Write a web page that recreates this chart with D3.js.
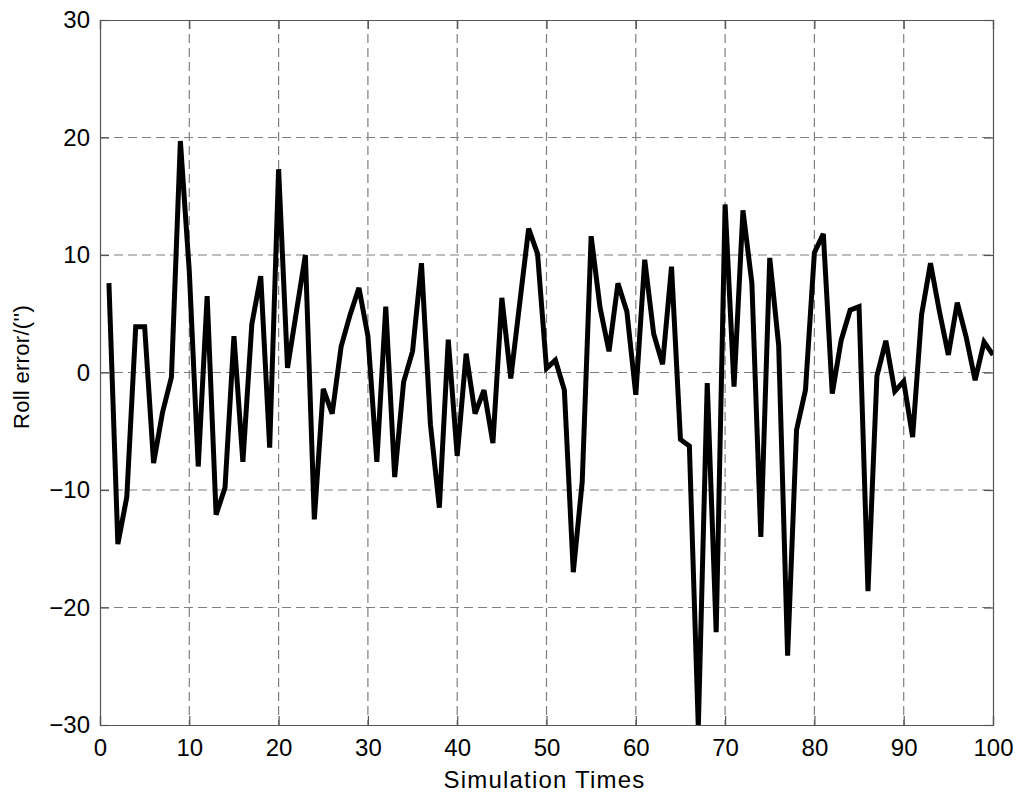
<!DOCTYPE html>
<html>
<head>
<meta charset="utf-8">
<script src="https://cdn.jsdelivr.net/npm/d3@7/dist/d3.min.js"></script>
<style>
  html, body { margin: 0; padding: 0; background: #fff; }
  svg { display: block; }
  text { font-family: Arial, "Liberation Sans", Helvetica, sans-serif; fill: #000; }
</style>
</head>
<body>
<svg id="chart" width="1024" height="797"></svg>
<script>
const xTicks = [0, 10, 20, 30, 40, 50, 60, 70, 80, 90, 100];
const yTicks = [-30, -20, -10, 0, 10, 20, 30];
const xLabel = "Simulation Times";
const yLabel = "Roll error/('')";
const rollError = [
  7.6, -14.6, -10.6, 3.9, 3.9, -7.7, -3.4, -0.4, 19.7, 8.6,
  -8.0, 6.5, -12.1, -9.8, 3.1, -7.6, 4.1, 8.2, -6.4, 17.3,
  0.4, 5.2, 10.0, -12.5, -1.4, -3.5, 2.2, 4.9, 7.2, 3.1,
  -7.6, 5.6, -8.9, -0.8, 1.8, 9.3, -4.4, -11.5, 2.8, -7.1,
  1.6, -3.5, -1.5, -6.0, 6.35, -0.5, 5.9, 12.25, 10.1, 0.35,
  1.05, -1.5, -17.0, -9.3, 11.6, 5.5, 1.8, 7.6, 5.2, -1.9,
  9.6, 3.3, 0.7, 9.0, -5.7, -6.25, -30.2, -0.9, -22.1, 14.3,
  -1.2, 13.8, 7.6, -14.0, 9.75, 2.3, -24.1, -4.9, -1.5, 10.2,
  11.8, -1.8, 2.75, 5.3, 5.6, -18.6, -0.3, 2.7, -1.6, -0.75,
  -5.5, 4.9, 9.3, 5.2, 1.5, 5.95, 3.0, -0.65, 2.6, 1.5
];
const times = rollError.map((_, i) => i + 1);

const svg = d3.select("#chart");
const m = { left: 100, right: 31, top: 20, bottom: 72 };
const W = 1024, H = 797;
const iw = W - m.left - m.right, ih = H - m.top - m.bottom;

const x = d3.scaleLinear().domain([0, 100]).range([m.left, m.left + iw]);
const y = d3.scaleLinear().domain([-30, 30]).range([m.top + ih, m.top]);

const g = svg.append("g");

// grid
const gridColor = "#7f7f7f";
g.append("g").selectAll("line").data(xTicks.slice(1, -1)).join("line")
  .attr("x1", d => x(d)).attr("x2", d => x(d))
  .attr("y1", y(30)).attr("y2", y(-30))
  .attr("stroke", gridColor).attr("stroke-width", 1.2).attr("stroke-dasharray", "9,5");
g.append("g").selectAll("line").data(yTicks.slice(1, -1)).join("line")
  .attr("y1", d => y(d)).attr("y2", d => y(d))
  .attr("x1", x(0)).attr("x2", x(100))
  .attr("stroke", gridColor).attr("stroke-width", 1.2).attr("stroke-dasharray", "9,5");

// axes (ticks inside)
const axisColor = "#555";
const xAxis = d3.axisBottom(x).tickValues(xTicks).tickSize(-9).tickPadding(14).tickFormat(d3.format("d"));
const yAxis = d3.axisLeft(y).tickValues(yTicks).tickSize(-9).tickPadding(10).tickFormat(d3.format("d"));
const xAxisTop = d3.axisTop(x).tickValues(xTicks).tickSize(-9).tickFormat("");
const yAxisRight = d3.axisRight(y).tickValues(yTicks).tickSize(-9).tickFormat("");

function style(sel) {
  sel.select(".domain").attr("stroke", axisColor).attr("stroke-width", 1.2);
  sel.selectAll(".tick line").attr("stroke", axisColor).attr("stroke-width", 1.2);
  sel.selectAll(".tick text").style("font-size", "24px").attr("fill", "#000");
}
g.append("g").attr("transform", `translate(0,${y(-30)})`).call(xAxis).call(style);
g.append("g").attr("transform", `translate(${x(0)},0)`).call(yAxis).call(style);
g.append("g").attr("transform", `translate(0,${y(30)})`).call(xAxisTop).call(style);
g.append("g").attr("transform", `translate(${x(100)},0)`).call(yAxisRight).call(style);

// data line
svg.append("clipPath").attr("id", "clip").append("rect")
  .attr("x", x(0)).attr("y", y(30) - 3).attr("width", iw).attr("height", ih + 3);
const line = d3.line().x((d, i) => x(times[i])).y(d => y(d));
g.append("path").datum(rollError)
  .attr("d", line)
  .attr("fill", "none").attr("stroke", "#000").attr("stroke-width", 5)
  .attr("stroke-linejoin", "miter").attr("stroke-miterlimit", 3)
  .attr("clip-path", "url(#clip)");

// labels
svg.append("text").attr("x", x(50) - 2).attr("y", 788).attr("text-anchor", "middle")
  .style("font-size", "24px").style("letter-spacing", "1.2px").text(xLabel);
svg.append("text").attr("transform", `translate(29,367) rotate(-90)`).attr("text-anchor", "middle")
  .style("font-size", "22px").style("letter-spacing", "0.3px").text(yLabel);
</script>
</body>
</html>
